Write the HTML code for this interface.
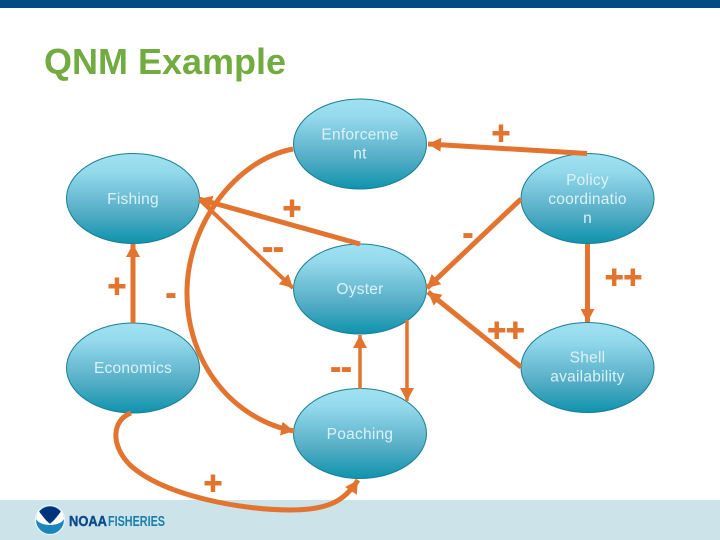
<!DOCTYPE html>
<html><head><meta charset="utf-8"><style>
html,body{margin:0;padding:0;background:#fff}
svg{display:block}
text{font-family:"Liberation Sans",sans-serif}
.n{font-size:15.5px;fill:#dcf1f6;text-anchor:middle;letter-spacing:.25px}
.s{font-size:32px;font-weight:bold;fill:#e2742f;stroke:#e2742f;stroke-width:.9;text-anchor:middle}
.c{fill:none;stroke:#e2742f;stroke-width:5}
</style></head><body>
<svg width="720" height="540" viewBox="0 0 720 540" xmlns="http://www.w3.org/2000/svg">
<defs>
<linearGradient id="g" x1="0" y1="0" x2="0" y2="1">
<stop offset="0" stop-color="#9fe2f2"/><stop offset=".2" stop-color="#94d9ec"/><stop offset=".65" stop-color="#55aec6"/><stop offset="1" stop-color="#0e93ad"/>
</linearGradient>
<marker id="a" markerUnits="userSpaceOnUse" markerWidth="16" markerHeight="16" refX="13" refY="7" orient="auto"><path d="M0 0L13 7L0 14Z" fill="#e2742f"/></marker>
</defs>
<rect width="720" height="8" fill="#004b82"/>
<rect y="500" width="720" height="40" fill="#cce4e9"/>
<text x="44" y="74" font-size="36" font-weight="bold" fill="#72ab3f">QNM Example</text>

<g fill="url(#g)" stroke="#1c7f93" stroke-width="1">
<ellipse cx="360" cy="144" rx="66.5" ry="45"/>
<ellipse cx="133" cy="198.500" rx="66.500" ry="45"/>
<ellipse cx="587.500" cy="198.500" rx="66.500" ry="45"/>
<ellipse cx="360" cy="289" rx="66.500" ry="45"/>
<ellipse cx="133" cy="368" rx="66.500" ry="45"/>
<ellipse cx="587.500" cy="367.500" rx="66.500" ry="45"/>
<ellipse cx="360" cy="433.500" rx="66.500" ry="45"/>
</g>

<path class="c" d="M587 153.500L428 144" marker-end="url(#a)"/>
<path class="c" d="M521 199L427 288" marker-end="url(#a)"/>
<path class="c" d="M521 367L428 292" marker-end="url(#a)"/>
<path class="c" d="M587.500 244L587.500 322" marker-end="url(#a)"/>
<path class="c" style="stroke-width:3.500" d="M407 320L407 401" marker-end="url(#a)"/>
<path class="c" style="stroke-width:3.500" d="M360 389L360 335" marker-end="url(#a)"/>
<path class="c" d="M360 244L199 199" marker-end="url(#a)"/>
<path class="c" style="stroke-width:4" d="M201 201L293 288" marker-end="url(#a)"/>
<path class="c" d="M133 323L133 244" marker-end="url(#a)"/>
<path class="c" d="M293 149C235 160 188 225 187 290C186 365 235 420 294 431" marker-end="url(#a)"/>
<path class="c" d="M131 413C112 420 110 445 130 465C165 497 245 510 290 510C330 510 345 500 358 480" marker-end="url(#a)"/>

<text class="n" x="360" y="139.500">Enforceme</text><text class="n" x="360" y="158.500">nt</text>
<text class="n" x="133" y="204">Fishing</text>
<text class="n" x="587.500" y="185">Policy</text><text class="n" x="587.500" y="204">coordinatio</text><text class="n" x="587.500" y="223">n</text>
<text class="n" x="360" y="294">Oyster</text>
<text class="n" x="133" y="373">Economics</text>
<text class="n" x="587.500" y="362.500">Shell</text><text class="n" x="587.500" y="381.500">availability</text>
<text class="n" x="360" y="439">Poaching</text>

<text class="s" x="501" y="144">+</text>
<text class="s" x="292" y="219">+</text>
<text class="s" x="273" y="258">--</text>
<text class="s" x="468" y="244">-</text>
<text class="s" x="117" y="297">+</text>
<text class="s" x="171" y="304">-</text>
<text class="s" x="623.500" y="288">++</text>
<text class="s" x="506" y="341">++</text>
<text class="s" x="341" y="378">--</text>
<text class="s" x="213" y="494">+</text>

<g>
<circle cx="50" cy="520" r="14.500" fill="#1a86bb" stroke="#e8f4f7" stroke-width="1.200"/>
<path d="M37.500 515A13.500 13.500 0 0 1 62.500 515L50 523Z" fill="#00347a"/>
<path d="M38 510C41 514 46 521 50 524C54 521 59 514 62 510L64 519C60 527 40 527 36 519Z" fill="#fff"/>
<text x="69" y="526" font-size="14.500" font-weight="bold" fill="#0b4b8c" stroke="#0b4b8c" stroke-width=".4" textLength="38" lengthAdjust="spacingAndGlyphs">NOAA</text>
<text x="108" y="526" font-size="14.500" font-weight="bold" fill="#1a7fa8" textLength="57" lengthAdjust="spacingAndGlyphs">FISHERIES</text>
</g>
</svg>
</body></html>
